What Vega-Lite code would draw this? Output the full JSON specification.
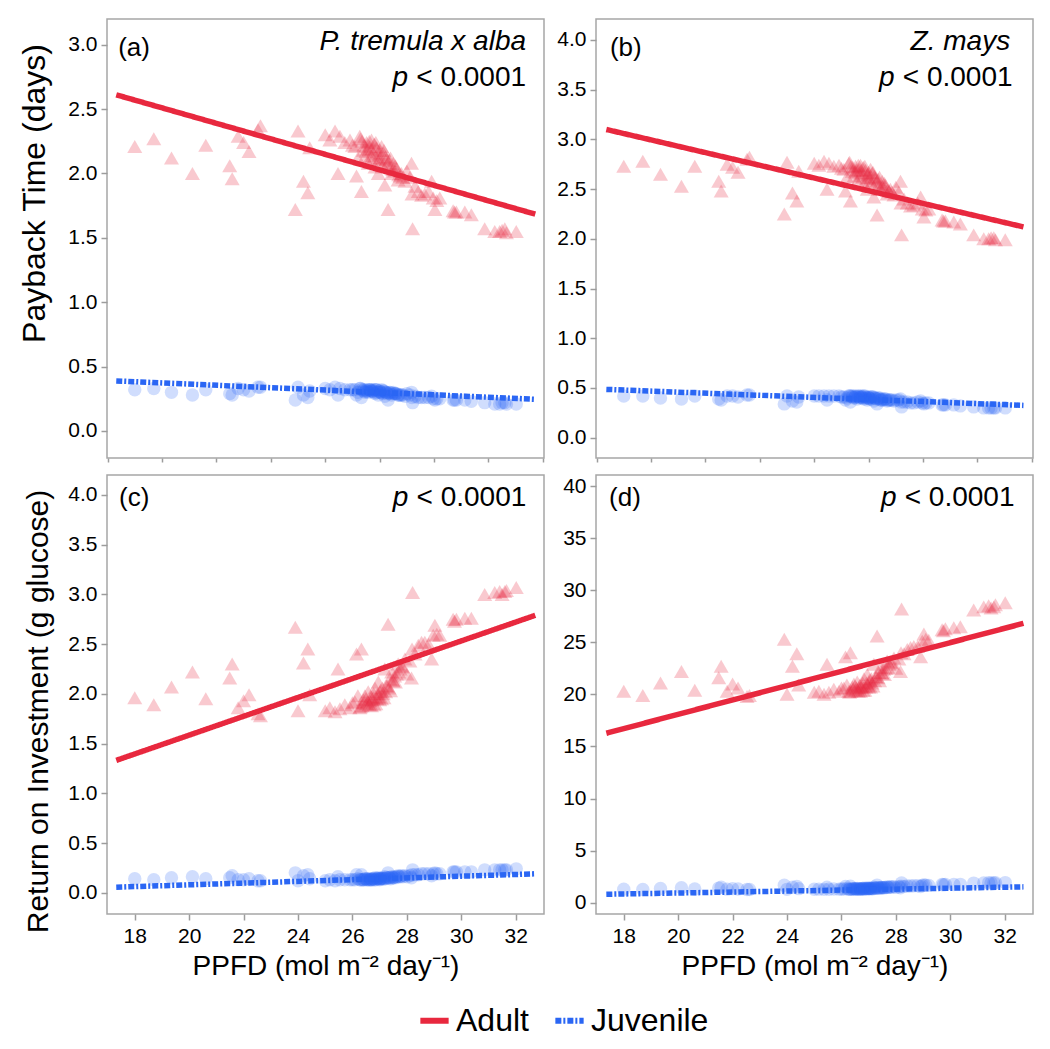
{
"$schema": "https://vega.github.io/schema/vega-lite/v6.json",
"background": "white",
"padding": {"left": 18, "top": 18, "right": 18, "bottom": 5},
"config": {
  "view": {"stroke": "#a6a6a6", "strokeWidth": 1.5},
  "font": "Liberation Sans",
  "axis": {"domain": false, "grid": false, "tickColor": "#9c9c9c", "tickWidth": 1.5, "labelFontSize": 21, "labelFont": "Liberation Sans", "titleFont": "Liberation Sans", "titleFontWeight": "normal", "labelColor": "#000", "titleColor": "#000", "labelPadding": 4},
  "text": {"font": "Liberation Sans", "color": "#000"}
},
"resolve": {"scale": {"x": "independent", "y": "independent"}, "axis": {"x": "independent", "y": "independent"}},
"datasets": {
  "aA": [{"x":18.0,"y":2.21},{"x":18.7,"y":2.27},{"x":19.35,"y":2.12},{"x":20.12,"y":2.0},{"x":20.61,"y":2.22},{"x":21.49,"y":2.06},{"x":21.58,"y":1.96},{"x":21.8,"y":2.29},{"x":22.0,"y":2.24},{"x":22.2,"y":2.17},{"x":22.53,"y":2.34},{"x":22.62,"y":2.37},{"x":23.9,"y":1.72},{"x":24.0,"y":2.33},{"x":24.2,"y":1.94},{"x":24.36,"y":1.85},{"x":24.43,"y":2.2},{"x":25.0,"y":2.3},{"x":25.17,"y":2.26},{"x":25.36,"y":2.33},{"x":25.47,"y":2.0},{"x":25.54,"y":2.29},{"x":25.72,"y":2.24},{"x":25.91,"y":2.26},{"x":26.0,"y":2.22},{"x":26.09,"y":2.21},{"x":26.15,"y":1.98},{"x":26.27,"y":2.29},{"x":26.33,"y":1.86},{"x":26.4,"y":2.18},{"x":26.46,"y":2.13},{"x":26.52,"y":2.24},{"x":26.58,"y":2.08},{"x":26.64,"y":2.21},{"x":26.7,"y":2.26},{"x":26.76,"y":2.16},{"x":26.83,"y":2.05},{"x":26.89,"y":2.2},{"x":26.95,"y":2.0},{"x":27.01,"y":2.12},{"x":27.07,"y":2.21},{"x":27.13,"y":2.16},{"x":27.19,"y":1.91},{"x":27.25,"y":2.11},{"x":27.31,"y":1.72},{"x":27.37,"y":2.05},{"x":27.44,"y":2.0},{"x":27.5,"y":2.08},{"x":27.62,"y":2.04},{"x":27.68,"y":1.95},{"x":27.8,"y":2.0},{"x":27.93,"y":1.94},{"x":28.11,"y":1.97},{"x":28.17,"y":2.08},{"x":28.19,"y":1.84},{"x":28.21,"y":1.57},{"x":28.42,"y":1.86},{"x":28.54,"y":1.83},{"x":28.66,"y":1.84},{"x":28.91,"y":1.94},{"x":28.97,"y":1.81},{"x":29.03,"y":1.72},{"x":29.21,"y":1.81},{"x":29.7,"y":1.71},{"x":29.82,"y":1.7},{"x":30.13,"y":1.7},{"x":30.37,"y":1.68},{"x":30.86,"y":1.57},{"x":31.23,"y":1.55},{"x":31.41,"y":1.55},{"x":31.6,"y":1.57},{"x":31.66,"y":1.54},{"x":32.02,"y":1.55},{"x":26.55,"y":2.19},{"x":26.68,"y":2.14},{"x":26.8,"y":2.23},{"x":26.92,"y":2.11},{"x":27.0,"y":2.18},{"x":27.1,"y":2.06},{"x":27.22,"y":2.13},{"x":27.35,"y":2.1},{"x":27.55,"y":2.02},{"x":27.75,"y":1.98},{"x":26.35,"y":2.25},{"x":26.2,"y":2.12},{"x":29.75,"y":1.7},{"x":31.5,"y":1.56},{"x":26.3,"y":2.27},{"x":26.42,"y":2.22},{"x":26.5,"y":2.17},{"x":26.62,"y":2.25},{"x":26.72,"y":2.19},{"x":26.78,"y":2.12},{"x":26.86,"y":2.24},{"x":26.98,"y":2.15},{"x":27.04,"y":2.09},{"x":27.16,"y":2.18},{"x":27.28,"y":2.07},{"x":27.4,"y":2.12},{"x":27.48,"y":2.03},{"x":27.58,"y":2.06},{"x":27.7,"y":1.99},{"x":27.85,"y":1.97},{"x":28.0,"y":2.02},{"x":28.3,"y":1.9},{"x":28.8,"y":1.86},{"x":29.1,"y":1.79}],
  "aJ": [{"x":18.0,"y":0.32},{"x":18.7,"y":0.33},{"x":19.35,"y":0.3},{"x":20.12,"y":0.28},{"x":20.61,"y":0.32},{"x":21.49,"y":0.29},{"x":21.58,"y":0.28},{"x":21.8,"y":0.33},{"x":22.0,"y":0.32},{"x":22.2,"y":0.31},{"x":22.53,"y":0.34},{"x":22.62,"y":0.34},{"x":23.9,"y":0.24},{"x":24.0,"y":0.34},{"x":24.2,"y":0.28},{"x":24.36,"y":0.26},{"x":24.43,"y":0.31},{"x":25.0,"y":0.33},{"x":25.17,"y":0.32},{"x":25.36,"y":0.34},{"x":25.47,"y":0.28},{"x":25.54,"y":0.33},{"x":25.72,"y":0.32},{"x":25.91,"y":0.32},{"x":26.0,"y":0.32},{"x":26.09,"y":0.32},{"x":26.15,"y":0.28},{"x":26.27,"y":0.33},{"x":26.33,"y":0.26},{"x":26.4,"y":0.31},{"x":26.46,"y":0.3},{"x":26.52,"y":0.32},{"x":26.58,"y":0.3},{"x":26.64,"y":0.32},{"x":26.7,"y":0.32},{"x":26.76,"y":0.31},{"x":26.83,"y":0.29},{"x":26.89,"y":0.32},{"x":26.95,"y":0.28},{"x":27.01,"y":0.3},{"x":27.07,"y":0.32},{"x":27.13,"y":0.31},{"x":27.19,"y":0.27},{"x":27.25,"y":0.3},{"x":27.31,"y":0.24},{"x":27.37,"y":0.29},{"x":27.44,"y":0.28},{"x":27.5,"y":0.3},{"x":27.62,"y":0.29},{"x":27.68,"y":0.28},{"x":27.8,"y":0.28},{"x":27.93,"y":0.27},{"x":28.11,"y":0.28},{"x":28.17,"y":0.3},{"x":28.19,"y":0.26},{"x":28.21,"y":0.22},{"x":28.42,"y":0.26},{"x":28.54,"y":0.26},{"x":28.66,"y":0.26},{"x":28.91,"y":0.27},{"x":28.97,"y":0.25},{"x":29.03,"y":0.24},{"x":29.21,"y":0.25},{"x":29.7,"y":0.24},{"x":29.82,"y":0.24},{"x":30.13,"y":0.24},{"x":30.37,"y":0.23},{"x":30.86,"y":0.22},{"x":31.23,"y":0.21},{"x":31.41,"y":0.21},{"x":31.6,"y":0.22},{"x":31.66,"y":0.21},{"x":32.02,"y":0.21},{"x":26.55,"y":0.31},{"x":26.68,"y":0.31},{"x":26.8,"y":0.32},{"x":26.92,"y":0.3},{"x":27.0,"y":0.31},{"x":27.1,"y":0.29},{"x":27.22,"y":0.3},{"x":27.35,"y":0.3},{"x":27.55,"y":0.29},{"x":27.75,"y":0.28},{"x":26.35,"y":0.32},{"x":26.2,"y":0.3},{"x":29.75,"y":0.24},{"x":31.5,"y":0.22},{"x":26.3,"y":0.33},{"x":26.42,"y":0.32},{"x":26.5,"y":0.31},{"x":26.62,"y":0.32},{"x":26.72,"y":0.31},{"x":26.78,"y":0.3},{"x":26.86,"y":0.32},{"x":26.98,"y":0.31},{"x":27.04,"y":0.3},{"x":27.16,"y":0.31},{"x":27.28,"y":0.29},{"x":27.4,"y":0.3},{"x":27.48,"y":0.29},{"x":27.58,"y":0.29},{"x":27.7,"y":0.28},{"x":27.85,"y":0.28},{"x":28.0,"y":0.29},{"x":28.3,"y":0.27},{"x":28.8,"y":0.26},{"x":29.1,"y":0.25}],
  "bA": [{"x":18.0,"y":2.73},{"x":18.7,"y":2.78},{"x":19.35,"y":2.65},{"x":20.12,"y":2.53},{"x":20.61,"y":2.73},{"x":21.49,"y":2.58},{"x":21.58,"y":2.48},{"x":21.8,"y":2.75},{"x":22.0,"y":2.72},{"x":22.2,"y":2.67},{"x":22.53,"y":2.8},{"x":22.62,"y":2.82},{"x":23.9,"y":2.25},{"x":24.0,"y":2.77},{"x":24.2,"y":2.46},{"x":24.36,"y":2.38},{"x":24.43,"y":2.68},{"x":25.0,"y":2.76},{"x":25.17,"y":2.74},{"x":25.36,"y":2.78},{"x":25.47,"y":2.5},{"x":25.54,"y":2.76},{"x":25.72,"y":2.73},{"x":25.91,"y":2.74},{"x":26.0,"y":2.71},{"x":26.09,"y":2.7},{"x":26.15,"y":2.48},{"x":26.27,"y":2.76},{"x":26.33,"y":2.38},{"x":26.4,"y":2.68},{"x":26.46,"y":2.63},{"x":26.52,"y":2.73},{"x":26.58,"y":2.58},{"x":26.64,"y":2.7},{"x":26.7,"y":2.74},{"x":26.76,"y":2.66},{"x":26.83,"y":2.55},{"x":26.89,"y":2.69},{"x":26.95,"y":2.5},{"x":27.01,"y":2.62},{"x":27.07,"y":2.7},{"x":27.13,"y":2.66},{"x":27.19,"y":2.42},{"x":27.25,"y":2.61},{"x":27.31,"y":2.24},{"x":27.37,"y":2.55},{"x":27.44,"y":2.5},{"x":27.5,"y":2.58},{"x":27.62,"y":2.54},{"x":27.68,"y":2.45},{"x":27.8,"y":2.5},{"x":27.93,"y":2.44},{"x":28.11,"y":2.47},{"x":28.17,"y":2.58},{"x":28.19,"y":2.36},{"x":28.21,"y":2.04},{"x":28.42,"y":2.36},{"x":28.54,"y":2.33},{"x":28.66,"y":2.34},{"x":28.91,"y":2.42},{"x":28.97,"y":2.3},{"x":29.03,"y":2.22},{"x":29.21,"y":2.3},{"x":29.7,"y":2.19},{"x":29.82,"y":2.18},{"x":30.13,"y":2.17},{"x":30.37,"y":2.15},{"x":30.86,"y":2.04},{"x":31.23,"y":2.0},{"x":31.41,"y":2.0},{"x":31.6,"y":2.01},{"x":31.66,"y":1.99},{"x":32.02,"y":1.99},{"x":26.55,"y":2.69},{"x":26.68,"y":2.64},{"x":26.8,"y":2.72},{"x":26.92,"y":2.61},{"x":27.0,"y":2.67},{"x":27.1,"y":2.56},{"x":27.22,"y":2.63},{"x":27.35,"y":2.6},{"x":27.55,"y":2.52},{"x":27.75,"y":2.48},{"x":26.35,"y":2.73},{"x":26.2,"y":2.62},{"x":29.75,"y":2.18},{"x":31.5,"y":2.01},{"x":26.3,"y":2.77},{"x":26.42,"y":2.72},{"x":26.5,"y":2.67},{"x":26.62,"y":2.74},{"x":26.72,"y":2.69},{"x":26.78,"y":2.62},{"x":26.86,"y":2.73},{"x":26.98,"y":2.65},{"x":27.04,"y":2.59},{"x":27.16,"y":2.67},{"x":27.28,"y":2.57},{"x":27.4,"y":2.62},{"x":27.48,"y":2.53},{"x":27.58,"y":2.56},{"x":27.7,"y":2.49},{"x":27.85,"y":2.47},{"x":28.0,"y":2.52},{"x":28.3,"y":2.4},{"x":28.8,"y":2.36},{"x":29.1,"y":2.29}],
  "bJ": [{"x":18.0,"y":0.42},{"x":18.7,"y":0.42},{"x":19.35,"y":0.4},{"x":20.12,"y":0.39},{"x":20.61,"y":0.42},{"x":21.49,"y":0.39},{"x":21.58,"y":0.38},{"x":21.8,"y":0.42},{"x":22.0,"y":0.42},{"x":22.2,"y":0.41},{"x":22.53,"y":0.43},{"x":22.62,"y":0.43},{"x":23.9,"y":0.34},{"x":24.0,"y":0.42},{"x":24.2,"y":0.37},{"x":24.36,"y":0.36},{"x":24.43,"y":0.41},{"x":25.0,"y":0.42},{"x":25.17,"y":0.42},{"x":25.36,"y":0.42},{"x":25.47,"y":0.38},{"x":25.54,"y":0.42},{"x":25.72,"y":0.42},{"x":25.91,"y":0.42},{"x":26.0,"y":0.41},{"x":26.09,"y":0.41},{"x":26.15,"y":0.38},{"x":26.27,"y":0.42},{"x":26.33,"y":0.36},{"x":26.4,"y":0.41},{"x":26.46,"y":0.4},{"x":26.52,"y":0.42},{"x":26.58,"y":0.39},{"x":26.64,"y":0.41},{"x":26.7,"y":0.42},{"x":26.76,"y":0.41},{"x":26.83,"y":0.39},{"x":26.89,"y":0.41},{"x":26.95,"y":0.38},{"x":27.01,"y":0.4},{"x":27.07,"y":0.41},{"x":27.13,"y":0.41},{"x":27.19,"y":0.37},{"x":27.25,"y":0.4},{"x":27.31,"y":0.34},{"x":27.37,"y":0.39},{"x":27.44,"y":0.38},{"x":27.5,"y":0.39},{"x":27.62,"y":0.39},{"x":27.68,"y":0.37},{"x":27.8,"y":0.38},{"x":27.93,"y":0.37},{"x":28.11,"y":0.38},{"x":28.17,"y":0.39},{"x":28.19,"y":0.36},{"x":28.21,"y":0.31},{"x":28.42,"y":0.36},{"x":28.54,"y":0.35},{"x":28.66,"y":0.35},{"x":28.91,"y":0.37},{"x":28.97,"y":0.35},{"x":29.03,"y":0.34},{"x":29.21,"y":0.35},{"x":29.7,"y":0.33},{"x":29.82,"y":0.33},{"x":30.13,"y":0.33},{"x":30.37,"y":0.32},{"x":30.86,"y":0.31},{"x":31.23,"y":0.3},{"x":31.41,"y":0.3},{"x":31.6,"y":0.3},{"x":31.66,"y":0.3},{"x":32.02,"y":0.3},{"x":26.55,"y":0.41},{"x":26.68,"y":0.4},{"x":26.8,"y":0.42},{"x":26.92,"y":0.4},{"x":27.0,"y":0.41},{"x":27.1,"y":0.39},{"x":27.22,"y":0.4},{"x":27.35,"y":0.4},{"x":27.55,"y":0.38},{"x":27.75,"y":0.38},{"x":26.35,"y":0.42},{"x":26.2,"y":0.4},{"x":29.75,"y":0.33},{"x":31.5,"y":0.3},{"x":26.3,"y":0.42},{"x":26.42,"y":0.42},{"x":26.5,"y":0.41},{"x":26.62,"y":0.42},{"x":26.72,"y":0.41},{"x":26.78,"y":0.4},{"x":26.86,"y":0.42},{"x":26.98,"y":0.4},{"x":27.04,"y":0.39},{"x":27.16,"y":0.41},{"x":27.28,"y":0.39},{"x":27.4,"y":0.4},{"x":27.48,"y":0.38},{"x":27.58,"y":0.39},{"x":27.7,"y":0.38},{"x":27.85,"y":0.38},{"x":28.0,"y":0.38},{"x":28.3,"y":0.36},{"x":28.8,"y":0.36},{"x":29.1,"y":0.35}],
  "cA": [{"x":18.0,"y":1.96},{"x":18.7,"y":1.89},{"x":19.35,"y":2.07},{"x":20.12,"y":2.22},{"x":20.61,"y":1.95},{"x":21.49,"y":2.16},{"x":21.58,"y":2.3},{"x":21.8,"y":1.86},{"x":22.0,"y":1.93},{"x":22.2,"y":1.99},{"x":22.53,"y":1.8},{"x":22.62,"y":1.78},{"x":23.9,"y":2.67},{"x":24.0,"y":1.83},{"x":24.2,"y":2.31},{"x":24.36,"y":2.45},{"x":24.43,"y":1.99},{"x":25.0,"y":1.83},{"x":25.17,"y":1.86},{"x":25.36,"y":1.82},{"x":25.47,"y":2.25},{"x":25.54,"y":1.85},{"x":25.72,"y":1.89},{"x":25.91,"y":1.86},{"x":26.0,"y":1.91},{"x":26.09,"y":1.92},{"x":26.15,"y":2.4},{"x":26.27,"y":1.86},{"x":26.33,"y":2.45},{"x":26.4,"y":1.94},{"x":26.46,"y":1.98},{"x":26.52,"y":1.9},{"x":26.58,"y":2.02},{"x":26.64,"y":1.93},{"x":26.7,"y":1.88},{"x":26.76,"y":1.96},{"x":26.83,"y":2.06},{"x":26.89,"y":1.95},{"x":26.95,"y":2.12},{"x":27.01,"y":2.02},{"x":27.07,"y":1.95},{"x":27.13,"y":2.0},{"x":27.19,"y":2.25},{"x":27.25,"y":2.08},{"x":27.31,"y":2.7},{"x":27.37,"y":2.15},{"x":27.44,"y":2.22},{"x":27.5,"y":2.13},{"x":27.62,"y":2.2},{"x":27.68,"y":2.3},{"x":27.8,"y":2.28},{"x":27.93,"y":2.35},{"x":28.11,"y":2.33},{"x":28.17,"y":2.16},{"x":28.19,"y":2.45},{"x":28.21,"y":3.02},{"x":28.42,"y":2.49},{"x":28.54,"y":2.52},{"x":28.66,"y":2.52},{"x":28.91,"y":2.35},{"x":28.97,"y":2.59},{"x":29.03,"y":2.69},{"x":29.21,"y":2.59},{"x":29.7,"y":2.75},{"x":29.82,"y":2.75},{"x":30.13,"y":2.76},{"x":30.37,"y":2.76},{"x":30.86,"y":3.0},{"x":31.23,"y":3.02},{"x":31.41,"y":3.03},{"x":31.6,"y":3.03},{"x":31.66,"y":3.04},{"x":32.02,"y":3.07},{"x":26.55,"y":1.92},{"x":26.68,"y":1.97},{"x":26.8,"y":1.89},{"x":26.92,"y":2.0},{"x":27.0,"y":1.94},{"x":27.1,"y":2.06},{"x":27.22,"y":2.02},{"x":27.35,"y":2.06},{"x":27.55,"y":2.18},{"x":27.75,"y":2.25},{"x":26.35,"y":1.88},{"x":26.2,"y":1.98},{"x":29.75,"y":2.73},{"x":31.5,"y":3.0},{"x":26.3,"y":1.87},{"x":26.42,"y":1.91},{"x":26.5,"y":1.95},{"x":26.62,"y":1.89},{"x":26.72,"y":1.94},{"x":26.78,"y":2.0},{"x":26.86,"y":1.9},{"x":26.98,"y":1.97},{"x":27.04,"y":2.04},{"x":27.16,"y":1.96},{"x":27.28,"y":2.08},{"x":27.4,"y":2.03},{"x":27.48,"y":2.14},{"x":27.58,"y":2.12},{"x":27.7,"y":2.22},{"x":27.85,"y":2.27},{"x":28.0,"y":2.2},{"x":28.3,"y":2.4},{"x":28.8,"y":2.5},{"x":29.1,"y":2.6}],
  "cJ": [{"x":18.0,"y":0.14},{"x":18.7,"y":0.13},{"x":19.35,"y":0.15},{"x":20.12,"y":0.16},{"x":20.61,"y":0.14},{"x":21.49,"y":0.15},{"x":21.58,"y":0.17},{"x":21.8,"y":0.13},{"x":22.0,"y":0.13},{"x":22.2,"y":0.14},{"x":22.53,"y":0.12},{"x":22.62,"y":0.12},{"x":23.9,"y":0.2},{"x":24.0,"y":0.12},{"x":24.2,"y":0.17},{"x":24.36,"y":0.18},{"x":24.43,"y":0.14},{"x":25.0,"y":0.12},{"x":25.17,"y":0.13},{"x":25.36,"y":0.12},{"x":25.47,"y":0.16},{"x":25.54,"y":0.13},{"x":25.72,"y":0.13},{"x":25.91,"y":0.13},{"x":26.0,"y":0.13},{"x":26.09,"y":0.13},{"x":26.15,"y":0.18},{"x":26.27,"y":0.13},{"x":26.33,"y":0.18},{"x":26.4,"y":0.13},{"x":26.46,"y":0.14},{"x":26.52,"y":0.13},{"x":26.58,"y":0.14},{"x":26.64,"y":0.13},{"x":26.7,"y":0.13},{"x":26.76,"y":0.14},{"x":26.83,"y":0.15},{"x":26.89,"y":0.14},{"x":26.95,"y":0.15},{"x":27.01,"y":0.14},{"x":27.07,"y":0.14},{"x":27.13,"y":0.14},{"x":27.19,"y":0.16},{"x":27.25,"y":0.15},{"x":27.31,"y":0.2},{"x":27.37,"y":0.15},{"x":27.44,"y":0.16},{"x":27.5,"y":0.15},{"x":27.62,"y":0.16},{"x":27.68,"y":0.17},{"x":27.8,"y":0.17},{"x":27.93,"y":0.17},{"x":28.11,"y":0.17},{"x":28.17,"y":0.15},{"x":28.19,"y":0.18},{"x":28.21,"y":0.23},{"x":28.42,"y":0.18},{"x":28.54,"y":0.19},{"x":28.66,"y":0.19},{"x":28.91,"y":0.17},{"x":28.97,"y":0.19},{"x":29.03,"y":0.2},{"x":29.21,"y":0.19},{"x":29.7,"y":0.21},{"x":29.82,"y":0.21},{"x":30.13,"y":0.21},{"x":30.37,"y":0.21},{"x":30.86,"y":0.23},{"x":31.23,"y":0.23},{"x":31.41,"y":0.23},{"x":31.6,"y":0.23},{"x":31.66,"y":0.23},{"x":32.02,"y":0.24},{"x":26.55,"y":0.13},{"x":26.68,"y":0.14},{"x":26.8,"y":0.13},{"x":26.92,"y":0.14},{"x":27.0,"y":0.13},{"x":27.1,"y":0.15},{"x":27.22,"y":0.14},{"x":27.35,"y":0.15},{"x":27.55,"y":0.16},{"x":27.75,"y":0.16},{"x":26.35,"y":0.13},{"x":26.2,"y":0.14},{"x":29.75,"y":0.21},{"x":31.5,"y":0.23},{"x":26.3,"y":0.13},{"x":26.42,"y":0.13},{"x":26.5,"y":0.14},{"x":26.62,"y":0.13},{"x":26.72,"y":0.13},{"x":26.78,"y":0.14},{"x":26.86,"y":0.13},{"x":26.98,"y":0.14},{"x":27.04,"y":0.14},{"x":27.16,"y":0.14},{"x":27.28,"y":0.15},{"x":27.4,"y":0.14},{"x":27.48,"y":0.15},{"x":27.58,"y":0.15},{"x":27.7,"y":0.16},{"x":27.85,"y":0.16},{"x":28.0,"y":0.16},{"x":28.3,"y":0.18},{"x":28.8,"y":0.19},{"x":29.1,"y":0.19}],
  "dA": [{"x":18.0,"y":20.3},{"x":18.7,"y":19.9},{"x":19.35,"y":21.1},{"x":20.12,"y":22.2},{"x":20.61,"y":20.4},{"x":21.49,"y":21.6},{"x":21.58,"y":22.7},{"x":21.8,"y":20.3},{"x":22.0,"y":21.0},{"x":22.2,"y":20.6},{"x":22.53,"y":19.8},{"x":22.62,"y":19.9},{"x":23.9,"y":25.3},{"x":24.0,"y":20.0},{"x":24.2,"y":22.7},{"x":24.36,"y":23.9},{"x":24.43,"y":20.9},{"x":25.0,"y":20.2},{"x":25.17,"y":20.3},{"x":25.36,"y":20.0},{"x":25.47,"y":22.9},{"x":25.54,"y":20.2},{"x":25.72,"y":20.5},{"x":25.91,"y":20.3},{"x":26.0,"y":20.6},{"x":26.09,"y":20.6},{"x":26.15,"y":23.6},{"x":26.27,"y":20.3},{"x":26.33,"y":24.0},{"x":26.4,"y":20.7},{"x":26.46,"y":21.0},{"x":26.52,"y":20.4},{"x":26.58,"y":21.2},{"x":26.64,"y":20.6},{"x":26.7,"y":20.3},{"x":26.76,"y":20.8},{"x":26.83,"y":21.5},{"x":26.89,"y":20.7},{"x":26.95,"y":21.9},{"x":27.01,"y":21.2},{"x":27.07,"y":20.7},{"x":27.13,"y":21.1},{"x":27.19,"y":22.9},{"x":27.25,"y":21.7},{"x":27.31,"y":25.6},{"x":27.37,"y":22.1},{"x":27.44,"y":22.6},{"x":27.5,"y":22.0},{"x":27.62,"y":22.5},{"x":27.68,"y":23.2},{"x":27.8,"y":23.1},{"x":27.93,"y":23.5},{"x":28.11,"y":23.4},{"x":28.17,"y":22.2},{"x":28.19,"y":24.0},{"x":28.21,"y":28.2},{"x":28.42,"y":24.3},{"x":28.54,"y":24.5},{"x":28.66,"y":24.6},{"x":28.91,"y":23.6},{"x":28.97,"y":25.1},{"x":29.03,"y":25.8},{"x":29.21,"y":25.2},{"x":29.7,"y":26.2},{"x":29.82,"y":26.3},{"x":30.13,"y":26.4},{"x":30.37,"y":26.5},{"x":30.86,"y":28.1},{"x":31.23,"y":28.4},{"x":31.41,"y":28.5},{"x":31.6,"y":28.4},{"x":31.66,"y":28.6},{"x":32.02,"y":28.8},{"x":26.55,"y":20.6},{"x":26.68,"y":20.9},{"x":26.8,"y":20.4},{"x":26.92,"y":21.1},{"x":27.0,"y":20.7},{"x":27.1,"y":21.5},{"x":27.22,"y":21.3},{"x":27.35,"y":21.6},{"x":27.55,"y":22.4},{"x":27.75,"y":22.9},{"x":26.35,"y":20.3},{"x":26.2,"y":20.9},{"x":29.75,"y":26.1},{"x":31.5,"y":28.3},{"x":26.3,"y":20.2},{"x":26.42,"y":20.5},{"x":26.5,"y":20.8},{"x":26.62,"y":20.3},{"x":26.72,"y":20.7},{"x":26.78,"y":21.1},{"x":26.86,"y":20.4},{"x":26.98,"y":20.9},{"x":27.04,"y":21.4},{"x":27.16,"y":20.8},{"x":27.28,"y":21.7},{"x":27.4,"y":21.3},{"x":27.48,"y":22.1},{"x":27.58,"y":21.9},{"x":27.7,"y":22.6},{"x":27.85,"y":23.0},{"x":28.0,"y":22.5},{"x":28.3,"y":23.9},{"x":28.8,"y":24.6},{"x":29.1,"y":25.3}],
  "dJ": [{"x":18.0,"y":1.3},{"x":18.7,"y":1.27},{"x":19.35,"y":1.36},{"x":20.12,"y":1.44},{"x":20.61,"y":1.31},{"x":21.49,"y":1.4},{"x":21.58,"y":1.48},{"x":21.8,"y":1.3},{"x":22.0,"y":1.35},{"x":22.2,"y":1.32},{"x":22.53,"y":1.27},{"x":22.62,"y":1.27},{"x":23.9,"y":1.67},{"x":24.0,"y":1.28},{"x":24.2,"y":1.48},{"x":24.36,"y":1.57},{"x":24.43,"y":1.35},{"x":25.0,"y":1.29},{"x":25.17,"y":1.3},{"x":25.36,"y":1.28},{"x":25.47,"y":1.49},{"x":25.54,"y":1.29},{"x":25.72,"y":1.32},{"x":25.91,"y":1.3},{"x":26.0,"y":1.32},{"x":26.09,"y":1.32},{"x":26.15,"y":1.55},{"x":26.27,"y":1.3},{"x":26.33,"y":1.58},{"x":26.4,"y":1.33},{"x":26.46,"y":1.35},{"x":26.52,"y":1.31},{"x":26.58,"y":1.37},{"x":26.64,"y":1.32},{"x":26.7,"y":1.3},{"x":26.76,"y":1.34},{"x":26.83,"y":1.39},{"x":26.89,"y":1.33},{"x":26.95,"y":1.42},{"x":27.01,"y":1.37},{"x":27.07,"y":1.33},{"x":27.13,"y":1.36},{"x":27.19,"y":1.49},{"x":27.25,"y":1.41},{"x":27.31,"y":1.69},{"x":27.37,"y":1.44},{"x":27.44,"y":1.47},{"x":27.5,"y":1.43},{"x":27.62,"y":1.47},{"x":27.68,"y":1.52},{"x":27.8,"y":1.51},{"x":27.93,"y":1.54},{"x":28.11,"y":1.53},{"x":28.17,"y":1.44},{"x":28.19,"y":1.58},{"x":28.21,"y":1.89},{"x":28.42,"y":1.6},{"x":28.54,"y":1.61},{"x":28.66,"y":1.62},{"x":28.91,"y":1.55},{"x":28.97,"y":1.66},{"x":29.03,"y":1.71},{"x":29.21,"y":1.66},{"x":29.7,"y":1.74},{"x":29.82,"y":1.75},{"x":30.13,"y":1.75},{"x":30.37,"y":1.76},{"x":30.86,"y":1.88},{"x":31.23,"y":1.9},{"x":31.41,"y":1.91},{"x":31.6,"y":1.9},{"x":31.66,"y":1.92},{"x":32.02,"y":1.93},{"x":26.55,"y":1.32},{"x":26.68,"y":1.35},{"x":26.8,"y":1.31},{"x":26.92,"y":1.36},{"x":27.0,"y":1.33},{"x":27.1,"y":1.39},{"x":27.22,"y":1.38},{"x":27.35,"y":1.4},{"x":27.55,"y":1.46},{"x":27.75,"y":1.49},{"x":26.35,"y":1.3},{"x":26.2,"y":1.35},{"x":29.75,"y":1.73},{"x":31.5,"y":1.89},{"x":26.3,"y":1.29},{"x":26.42,"y":1.32},{"x":26.5,"y":1.34},{"x":26.62,"y":1.3},{"x":26.72,"y":1.33},{"x":26.78,"y":1.36},{"x":26.86,"y":1.31},{"x":26.98,"y":1.35},{"x":27.04,"y":1.38},{"x":27.16,"y":1.34},{"x":27.28,"y":1.41},{"x":27.4,"y":1.38},{"x":27.48,"y":1.44},{"x":27.58,"y":1.42},{"x":27.7,"y":1.47},{"x":27.85,"y":1.5},{"x":28.0,"y":1.47},{"x":28.3,"y":1.57},{"x":28.8,"y":1.62},{"x":29.1,"y":1.67}],
  "lines": [
    {"p":"a","g":"Adult","x":17.32,"y":2.611},{"p":"a","g":"Adult","x":32.72,"y":1.684},
    {"p":"a","g":"Juvenile","x":17.32,"y":0.389},{"p":"a","g":"Juvenile","x":32.72,"y":0.246},
    {"p":"b","g":"Adult","x":17.36,"y":3.1},{"p":"b","g":"Adult","x":32.69,"y":2.12},
    {"p":"b","g":"Juvenile","x":17.36,"y":0.486},{"p":"b","g":"Juvenile","x":32.69,"y":0.325},
    {"p":"c","g":"Adult","x":17.32,"y":1.331},{"p":"c","g":"Adult","x":32.72,"y":2.79},
    {"p":"c","g":"Juvenile","x":17.32,"y":0.056},{"p":"c","g":"Juvenile","x":32.72,"y":0.19},
    {"p":"d","g":"Adult","x":17.36,"y":16.27},{"p":"d","g":"Adult","x":32.69,"y":26.82},
    {"p":"d","g":"Juvenile","x":17.36,"y":0.81},{"p":"d","g":"Juvenile","x":32.69,"y":1.52}
  ]
},
"columns": 2,
"spacing": {"row": 17, "column": 52},
"bounds": "flush",
"concat": [
    {"width": 437, "height": 439, "layer": [
      {"data": {"name": "aA"}, "mark": {"type": "point", "shape": "triangle-up", "filled": true, "size": 225, "opacity": 0.25, "color": "#E8283E", "strokeWidth": 0},
       "encoding": {
         "x": {"field": "x", "type": "quantitative", "scale": {"domain": [16.98, 33.04], "nice": false, "zero": false}, "axis": {"values": [17,18,19,20,21,22,23,24,25,26,27,28,29,30,31,32,33], "labels": false, "title": null, "tickSize": {"condition": {"test": "datum.value % 2 != 0", "value": 4}, "value": 6}}},
         "y": {"field": "y", "type": "quantitative", "scale": {"domain": [-0.21, 3.2], "nice": false, "zero": false}, "axis": {"values": [0,0.25,0.5,0.75,1,1.25,1.5,1.75,2,2.25,2.5,2.75,3], "labelExpr": "datum.value % 0.5 == 0 ? format(datum.value, '.1f') : ''", "tickSize": {"condition": {"test": "datum.value % 0.5 != 0", "value": 3}, "value": 6}, "title": "Payback Time (days)", "titleFontSize": 32, "titlePadding": 16, "titleY": 174}}}},
      {"data": {"name": "aJ"}, "mark": {"type": "point", "shape": "circle", "filled": true, "size": 180, "opacity": 0.22, "color": "#2A66F4", "strokeWidth": 0},
       "encoding": {"x": {"field": "x", "type": "quantitative"}, "y": {"field": "y", "type": "quantitative"}}},
      {"data": {"name": "lines"}, "transform": [{"filter": "datum.p == 'a'"}], "mark": {"type": "line", "strokeWidth": 5.5, "strokeCap": "butt"},
       "encoding": {"x": {"field": "x", "type": "quantitative"}, "y": {"field": "y", "type": "quantitative"},
         "color": {"field": "g", "type": "nominal", "scale": {"domain": ["Adult", "Juvenile"], "range": ["#E8283E", "#2A66F4"]}, "legend": {"orient": "none", "legendX": 310, "legendY": 984, "direction": "horizontal", "title": null, "labelFontSize": 32, "labelFont": "Liberation Sans", "labelColor": "#000", "symbolType": "stroke", "symbolStrokeWidth": 6, "symbolSize": 800, "columnPadding": 14, "labelOffset": 4}},
         "strokeDash": {"field": "g", "type": "nominal", "scale": {"domain": ["Adult", "Juvenile"], "range": [[1, 0], [6, 2, 2, 2]]}, "legend": {"orient": "none", "legendX": 310, "legendY": 984, "direction": "horizontal", "title": null, "labelFontSize": 32, "labelFont": "Liberation Sans", "labelColor": "#000", "symbolType": "stroke", "symbolStrokeWidth": 6, "symbolSize": 800, "columnPadding": 14, "labelOffset": 4}}}},
      {"data": {"values": [{}]}, "mark": {"type": "text", "text": "(a)", "align": "left", "baseline": "alphabetic", "fontSize": 26}, "encoding": {"x": {"datum": 17.39, "type": "quantitative"}, "y": {"datum": 2.915, "type": "quantitative"}}},
      {"data": {"values": [{}]}, "mark": {"type": "text", "text": "P. tremula x alba", "align": "right", "baseline": "alphabetic", "fontSize": 28, "fontStyle": "italic"}, "encoding": {"x": {"datum": 32.38, "type": "quantitative"}, "y": {"datum": 2.96, "type": "quantitative"}}},
      {"data": {"values": [{}]}, "mark": {"type": "text", "text": "< 0.0001", "align": "right", "baseline": "alphabetic", "fontSize": 28}, "encoding": {"x": {"datum": 32.38, "type": "quantitative"}, "y": {"datum": 2.68, "type": "quantitative"}}},
      {"data": {"values": [{}]}, "mark": {"type": "text", "text": "p", "align": "right", "baseline": "alphabetic", "fontSize": 28, "fontStyle": "italic", "dx": -118}, "encoding": {"x": {"datum": 32.38, "type": "quantitative"}, "y": {"datum": 2.68, "type": "quantitative"}}}
    ]},
    {"width": 437, "height": 439, "layer": [
      {"data": {"name": "bA"}, "mark": {"type": "point", "shape": "triangle-up", "filled": true, "size": 225, "opacity": 0.25, "color": "#E8283E", "strokeWidth": 0},
       "encoding": {
         "x": {"field": "x", "type": "quantitative", "scale": {"domain": [16.98, 33.04], "nice": false, "zero": false}, "axis": {"values": [17,18,19,20,21,22,23,24,25,26,27,28,29,30,31,32,33], "labels": false, "title": null, "tickSize": {"condition": {"test": "datum.value % 2 != 0", "value": 4}, "value": 6}}},
         "y": {"field": "y", "type": "quantitative", "scale": {"domain": [-0.204, 4.211], "nice": false, "zero": false}, "axis": {"values": [0,0.25,0.5,0.75,1,1.25,1.5,1.75,2,2.25,2.5,2.75,3,3.25,3.5,3.75,4], "labelExpr": "datum.value % 0.5 == 0 ? format(datum.value, '.1f') : ''", "tickSize": {"condition": {"test": "datum.value % 0.5 != 0", "value": 3}, "value": 6}, "title": null}}}},
      {"data": {"name": "bJ"}, "mark": {"type": "point", "shape": "circle", "filled": true, "size": 180, "opacity": 0.22, "color": "#2A66F4", "strokeWidth": 0},
       "encoding": {"x": {"field": "x", "type": "quantitative"}, "y": {"field": "y", "type": "quantitative"}}},
      {"data": {"name": "lines"}, "transform": [{"filter": "datum.p == 'b'"}], "mark": {"type": "line", "strokeWidth": 5.5, "strokeCap": "butt"},
       "encoding": {"x": {"field": "x", "type": "quantitative"}, "y": {"field": "y", "type": "quantitative"},
         "color": {"field": "g", "type": "nominal"}, "strokeDash": {"field": "g", "type": "nominal"}}},
      {"data": {"values": [{}]}, "mark": {"type": "text", "text": "(b)", "align": "left", "baseline": "alphabetic", "fontSize": 26}, "encoding": {"x": {"datum": 17.49, "type": "quantitative"}, "y": {"datum": 3.84, "type": "quantitative"}}},
      {"data": {"values": [{}]}, "mark": {"type": "text", "text": "Z. mays", "align": "right", "baseline": "alphabetic", "fontSize": 28, "fontStyle": "italic"}, "encoding": {"x": {"datum": 32.2, "type": "quantitative"}, "y": {"datum": 3.9, "type": "quantitative"}}},
      {"data": {"values": [{}]}, "mark": {"type": "text", "text": "< 0.0001", "align": "right", "baseline": "alphabetic", "fontSize": 28}, "encoding": {"x": {"datum": 32.29, "type": "quantitative"}, "y": {"datum": 3.537, "type": "quantitative"}}},
      {"data": {"values": [{}]}, "mark": {"type": "text", "text": "p", "align": "right", "baseline": "alphabetic", "fontSize": 28, "fontStyle": "italic", "dx": -118}, "encoding": {"x": {"datum": 32.29, "type": "quantitative"}, "y": {"datum": 3.537, "type": "quantitative"}}}
    ]},
    {"width": 437, "height": 439, "layer": [
      {"data": {"name": "cA"}, "mark": {"type": "point", "shape": "triangle-up", "filled": true, "size": 225, "opacity": 0.25, "color": "#E8283E", "strokeWidth": 0},
       "encoding": {
         "x": {"field": "x", "type": "quantitative", "scale": {"domain": [16.98, 33.04], "nice": false, "zero": false}, "axis": {"values": [18,20,22,24,26,28,30,32], "format": "d", "labelFlush": false, "labelOverlap": false, "tickSize": 6, "labelPadding": 5, "title": "PPFD (mol m⁻² day⁻¹)", "titleFontSize": 28, "titlePadding": 6}},
         "y": {"field": "y", "type": "quantitative", "scale": {"domain": [-0.214, 4.201], "nice": false, "zero": false}, "axis": {"values": [0,0.25,0.5,0.75,1,1.25,1.5,1.75,2,2.25,2.5,2.75,3,3.25,3.5,3.75,4], "labelExpr": "datum.value % 0.5 == 0 ? format(datum.value, '.1f') : ''", "tickSize": {"condition": {"test": "datum.value % 0.5 != 0", "value": 3}, "value": 6}, "title": "Return on Investment (g glucose)", "titleFontSize": 30, "titlePadding": 14, "titleY": 236}}}},
      {"data": {"name": "cJ"}, "mark": {"type": "point", "shape": "circle", "filled": true, "size": 180, "opacity": 0.22, "color": "#2A66F4", "strokeWidth": 0},
       "encoding": {"x": {"field": "x", "type": "quantitative"}, "y": {"field": "y", "type": "quantitative"}}},
      {"data": {"name": "lines"}, "transform": [{"filter": "datum.p == 'c'"}], "mark": {"type": "line", "strokeWidth": 5.5, "strokeCap": "butt"},
       "encoding": {"x": {"field": "x", "type": "quantitative"}, "y": {"field": "y", "type": "quantitative"},
         "color": {"field": "g", "type": "nominal"}, "strokeDash": {"field": "g", "type": "nominal"}}},
      {"data": {"values": [{}]}, "mark": {"type": "text", "text": "(c)", "align": "left", "baseline": "alphabetic", "fontSize": 26}, "encoding": {"x": {"datum": 17.42, "type": "quantitative"}, "y": {"datum": 3.89, "type": "quantitative"}}},
      {"data": {"values": [{}]}, "mark": {"type": "text", "text": "< 0.0001", "align": "right", "baseline": "alphabetic", "fontSize": 28}, "encoding": {"x": {"datum": 32.39, "type": "quantitative"}, "y": {"datum": 3.89, "type": "quantitative"}}},
      {"data": {"values": [{}]}, "mark": {"type": "text", "text": "p", "align": "right", "baseline": "alphabetic", "fontSize": 28, "fontStyle": "italic", "dx": -118}, "encoding": {"x": {"datum": 32.39, "type": "quantitative"}, "y": {"datum": 3.89, "type": "quantitative"}}}
    ]},
    {"width": 437, "height": 439, "layer": [
      {"data": {"name": "dA"}, "mark": {"type": "point", "shape": "triangle-up", "filled": true, "size": 225, "opacity": 0.25, "color": "#E8283E", "strokeWidth": 0},
       "encoding": {
         "x": {"field": "x", "type": "quantitative", "scale": {"domain": [16.98, 33.04], "nice": false, "zero": false}, "axis": {"values": [18,20,22,24,26,28,30,32], "format": "d", "labelFlush": false, "labelOverlap": false, "tickSize": 6, "labelPadding": 5, "title": "PPFD (mol m⁻² day⁻¹)", "titleFontSize": 28, "titlePadding": 6}},
         "y": {"field": "y", "type": "quantitative", "scale": {"domain": [-1.085, 41.06], "nice": false, "zero": false}, "axis": {"values": [0,2.5,5,7.5,10,12.5,15,17.5,20,22.5,25,27.5,30,32.5,35,37.5,40], "labelExpr": "datum.value % 5 == 0 ? format(datum.value, 'd') : ''", "tickSize": {"condition": {"test": "datum.value % 5 != 0", "value": 3}, "value": 6}, "title": null}}}},
      {"data": {"name": "dJ"}, "mark": {"type": "point", "shape": "circle", "filled": true, "size": 180, "opacity": 0.22, "color": "#2A66F4", "strokeWidth": 0},
       "encoding": {"x": {"field": "x", "type": "quantitative"}, "y": {"field": "y", "type": "quantitative"}}},
      {"data": {"name": "lines"}, "transform": [{"filter": "datum.p == 'd'"}], "mark": {"type": "line", "strokeWidth": 5.5, "strokeCap": "butt"},
       "encoding": {"x": {"field": "x", "type": "quantitative"}, "y": {"field": "y", "type": "quantitative"},
         "color": {"field": "g", "type": "nominal"}, "strokeDash": {"field": "g", "type": "nominal"}}},
      {"data": {"values": [{}]}, "mark": {"type": "text", "text": "(d)", "align": "left", "baseline": "alphabetic", "fontSize": 26}, "encoding": {"x": {"datum": 17.46, "type": "quantitative"}, "y": {"datum": 38.08, "type": "quantitative"}}},
      {"data": {"values": [{}]}, "mark": {"type": "text", "text": "< 0.0001", "align": "right", "baseline": "alphabetic", "fontSize": 28}, "encoding": {"x": {"datum": 32.36, "type": "quantitative"}, "y": {"datum": 38.08, "type": "quantitative"}}},
      {"data": {"values": [{}]}, "mark": {"type": "text", "text": "p", "align": "right", "baseline": "alphabetic", "fontSize": 28, "fontStyle": "italic", "dx": -118}, "encoding": {"x": {"datum": 32.36, "type": "quantitative"}, "y": {"datum": 38.08, "type": "quantitative"}}}
    ]}
]
}
